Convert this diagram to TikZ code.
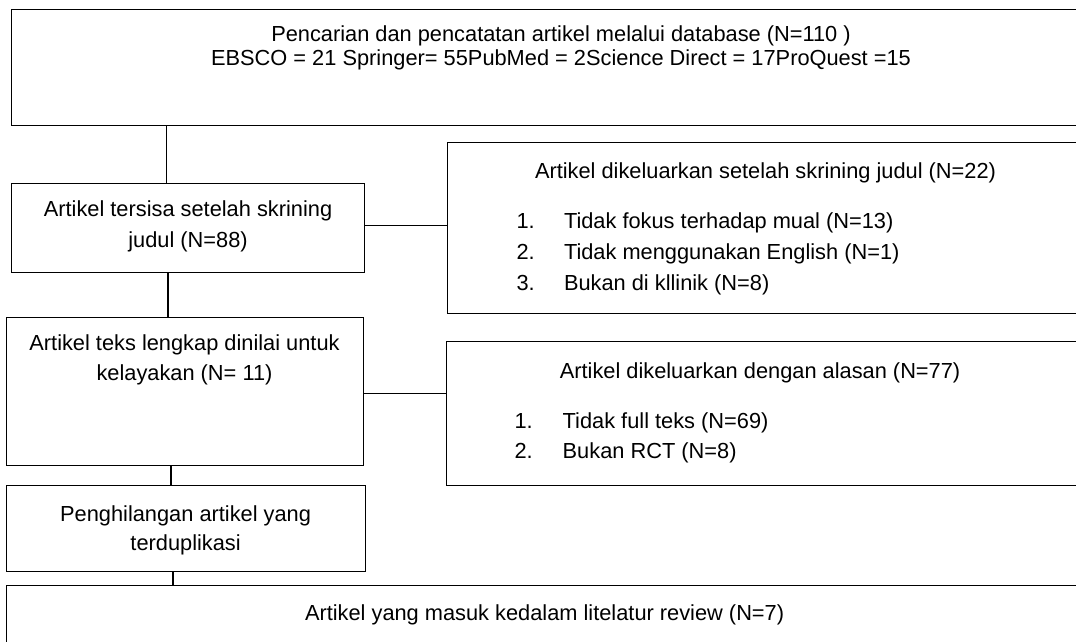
\documentclass[tikz,border=0pt]{standalone}
\usepackage{fontspec}
\setmainfont{Liberation Sans}
\begin{document}
\begin{tikzpicture}[x=1pt,y=-1pt,
  box/.style={draw=black, line width=1pt, rectangle, inner sep=0pt, outer sep=0pt, anchor=north west},
  conn/.style={draw=black, line width=1.3pt},
  txt/.style={inner sep=0pt, outer sep=0pt, font=\fontsize{21.8}{26}\selectfont, anchor=base},
  txtl/.style={txt, anchor=base west}]
\useasboundingbox (0,0) rectangle (1076,641);
\fill[white] (0,0) rectangle (1076,641);
\begin{scope}
\clip (0,0) rectangle (1076,641);
% boxes
\node[box, minimum width=1100, minimum height=115.7] (top) at (11.4,9.3) {};
\node[box, minimum width=353.3, minimum height=88.7] (A) at (11.4,183.3) {};
\node[box, minimum width=700, minimum height=170.6] (B) at (447.3,142.7) {};
\node[box, minimum width=357.1, minimum height=148.7] (C) at (6.2,317) {};
\node[box, minimum width=700, minimum height=143.3] (D) at (446.6,341.7) {};
\node[box, minimum width=358.8, minimum height=86] (E) at (6.2,485.7) {};
\node[box, minimum width=1100, minimum height=100] (F) at (6,585.7) {};
% texts
\node[txt] (t1) at (561,41.7) {Pencarian dan pencatatan artikel melalui database (N=110 )};
\node[txt] (t2) at (561,65.7) {EBSCO = 21 Springer= 55PubMed = 2Science Direct = 17ProQuest =15};
\node[txt] (a1) at (188,216.7) {Artikel tersisa setelah skrining};
\node[txt] (a2) at (188,247) {judul (N=88)};
\node[txtl] (b0) at (535,178.3) {Artikel dikeluarkan setelah skrining judul (N=22)};
\node[txtl] (b1n) at (516.5,228.3) {1.};
\node[txtl] (b1) at (564,228.3) {Tidak fokus terhadap mual (N=13)};
\node[txtl] (b2n) at (516.5,259.3) {2.};
\node[txtl] (b2) at (564,259.3) {Tidak menggunakan English (N=1)};
\node[txtl] (b3n) at (516.5,290) {3.};
\node[txtl] (b3) at (564,290) {Bukan di kllinik (N=8)};
\node[txt] (c1) at (184.5,350) {Artikel teks lengkap dinilai untuk};
\node[txt] (c2) at (184.5,380) {kelayakan (N= 11)};
\node[txtl] (d0) at (559.8,378.3) {Artikel dikeluarkan dengan alasan (N=77)};
\node[txtl] (d1n) at (514.5,428.3) {1.};
\node[txtl] (d1) at (562.7,428.3) {Tidak full teks (N=69)};
\node[txtl] (d2n) at (514.5,458.3) {2.};
\node[txtl] (d2) at (562.7,458.3) {Bukan RCT (N=8)};
\node[txt] (e1) at (185.6,521.5) {Penghilangan artikel yang};
\node[txt] (e2) at (185.6,550) {terduplikasi};
\node[txtl] (f1) at (305,620) {Artikel yang masuk kedalam litelatur review (N=7)};
% connector guides
\coordinate (x1) at (166.3,0);
\coordinate (x2) at (168,0);
\coordinate (x3) at (171,0);
\coordinate (x4) at (173,0);
\coordinate (yAB) at (0,225.7);
\coordinate (yCD) at (0,393.3);
% connectors
\draw[conn] (top.south -| x1) -- (A.north -| x1);
\draw[conn] (A.east |- yAB) -- (B.west |- yAB);
\draw[conn] (A.south -| x2) -- (C.north -| x2);
\draw[conn] (C.east |- yCD) -- (D.west |- yCD);
\draw[conn] (C.south -| x3) -- (E.north -| x3);
\draw[conn] (E.south -| x4) -- (F.north -| x4);
\end{scope}
\end{tikzpicture}
\end{document}
